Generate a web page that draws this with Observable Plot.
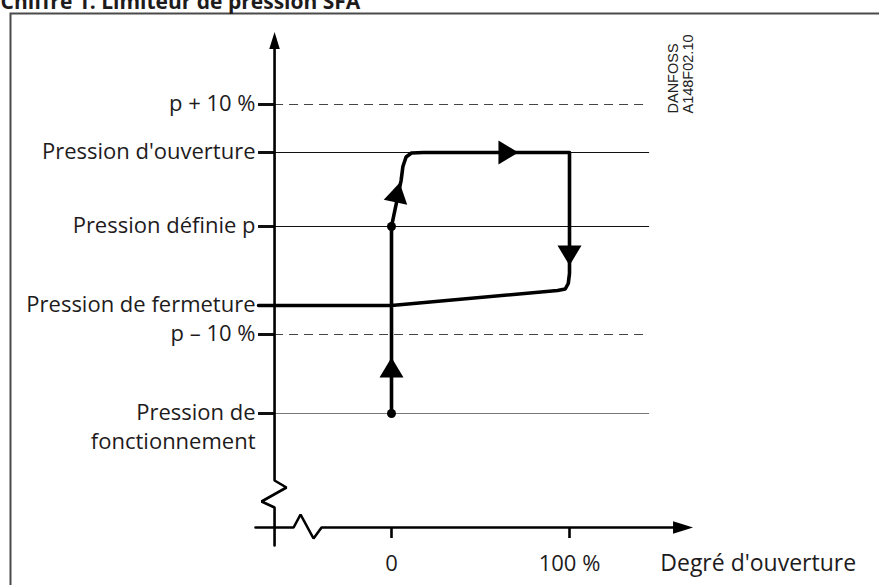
<!DOCTYPE html>
<html>
<head>
<meta charset="utf-8">
<script src="https://cdn.jsdelivr.net/npm/d3@7"></script>
<script src="https://cdn.jsdelivr.net/npm/@observablehq/plot@0.6"></script>
<style>
  html, body { margin: 0; padding: 0; background: #fff; overflow: hidden; }
  #chart svg { display: block; }
</style>
</head>
<body>
<div id="chart"></div>
<script>
// ---------- data ----------
const titleText = "Chiffre 1. Limiteur de pression SFA";
const levelLabels = ["p + 10 %", "Pression d'ouverture", "Pression définie p", "Pression de fermeture", "p – 10 %", "Pression de\nfonctionnement"];
const levelValues = [84.6, 75, 60.2, 44.4, 38.6, 22.8];
const levelDashed = [true, false, false, false, true, false];
const levelHasLine = [true, true, true, false, true, true];
const levelStroke = ["#444", "#111", "#111", "#111", "#444", "#777"];

const xTickValues = [0, 100];
const xTickLabels = ["0", "100 %"];
const xAxisTitle = "Degré d'ouverture";
const watermark = "DANFOSS\nA148F02.10";

// hysteresis path (opening degree %, pressure level)
const pathX = [0, 0, 5.4, 6.4, 8.2, 11.2, 18, 100, 100, 99.3, 97.6, 93.3, 0, -74.7];
const pathY = [22.8, 60.2, 69.4, 72.2, 74.1, 74.9, 75, 75, 50.8, 48.8, 47.7, 47.4, 44.4, 44.4];

// dots on the path
const dotX = [0, 0];
const dotY = [22.8, 60.2];

// arrowheads on the path
const headX = [0, 3.4, 65.7, 100];
const headY = [32, 67, 75, 54.4];
const headAngle = [0, 12, 90, 180];

// axes (schematic, with break marks)
const yAxisX = [-65.7, -65.7, -73.0, -59.0, -65.7, -65.7];
const yAxisY = [-3.6, 4.0, 5.2, 8.0, 9.4, 96.0];
const xAxisX = [-76.4, -55.0, -51.1, -43.8, -39.3, 160];
const xAxisY = [0, 0, 2.6, -2.2, 0, 0];
const axisHeadX = [-65.7, 163.8];
const axisHeadY = [97.4, 0];
const axisHeadAngle = [0, 90];
const axisHeadSize = [8.5, 10];

// ---------- helpers ----------
const levels = levelLabels.map((label, i) => ({label, value: levelValues[i], dashed: levelDashed[i], line: levelHasLine[i], stroke: levelStroke[i]}));
const path = pathX.map((x, i) => ({x, y: pathY[i]}));
const heads = headX.map((x, i) => ({x, y: headY[i], a: headAngle[i]}));
const axisHeads = axisHeadX.map((x, i) => ({x, y: axisHeadY[i], a: axisHeadAngle[i], r: axisHeadSize[i]}));
const yAxis = yAxisX.map((x, i) => ({x, y: yAxisY[i]}));
const xAxis = xAxisX.map((x, i) => ({x, y: xAxisY[i]}));

function headSymbol(ratio) {
  return {
    draw(ctx, size) {
      const r = Math.sqrt(size / Math.PI);
      ctx.moveTo(0, -r);
      ctx.lineTo(ratio * r, r);
      ctx.lineTo(-ratio * r, r);
      ctx.closePath();
    }
  };
}

const axisLeft = -65.7;
const refEnd = 145;
const tickStart = -74.7;
const ink = "#1e1b1c";
const font = "Open Sans";
const fs = 22;

const chart = Plot.plot({
  width: 879,
  height: 585,
  marginLeft: 10,
  marginTop: 13,
  marginRight: 0,
  marginBottom: 0,
  style: {fontFamily: font, background: "#fff", overflow: "visible"},
  x: {domain: [0, 100], range: [391, 569], axis: null},
  y: {domain: [0, 100], range: [527, 27], axis: null},
  r: {type: "identity"},
  marks: [
    Plot.frame({stroke: "#4a4a4a", strokeWidth: 2, insetRight: -10, insetBottom: -10}),
    // reference lines
    Plot.ruleY(levels.filter(d => d.line && !d.dashed), {y: "value", x1: axisLeft, x2: refEnd, stroke: "stroke", strokeWidth: 1.1}),
    Plot.ruleY(levels.filter(d => d.line && d.dashed), {y: "value", x1: axisLeft, x2: refEnd, stroke: "stroke", strokeWidth: 1.1, strokeDasharray: "9,6"}),
    // level ticks
    Plot.ruleY(levels, {y: "value", x1: tickStart, x2: axisLeft, stroke: "#111", strokeWidth: 3}),
    // level labels
    Plot.text(levels, {y: "value", x: tickStart, text: "label", textAnchor: "end", lineAnchor: "top", dy: -14, dx: -3, fontSize: fs, fill: ink, lineHeight: 1.32}),
    // axes
    Plot.line(yAxis, {x: "x", y: "y", stroke: "#000", strokeWidth: 2.6, strokeLinejoin: "miter"}),
    Plot.line(xAxis, {x: "x", y: "y", stroke: "#000", strokeWidth: 2.6, strokeLinejoin: "miter"}),
    Plot.dot(axisHeads, {x: "x", y: "y", r: "r", rotate: "a", symbol: headSymbol(0.62), fill: "#000", stroke: null}),
    // x ticks
    Plot.ruleX(xTickValues, {x: d => d, y1: 0, y2: -2.2, stroke: "#000", strokeWidth: 2.6}),
    Plot.text(xTickValues, {x: d => d, y: -7.2, text: (d, i) => xTickLabels[i], fontSize: fs, fill: ink}),
    Plot.text([xAxisTitle], {x: 151, y: -7.2, text: d => d, textAnchor: "start", fontSize: 23, fill: ink}),
    // hysteresis path
    Plot.line(path, {x: "x", y: "y", stroke: "#000", strokeWidth: 3.6, strokeLinejoin: "round", curve: "linear"}),
    Plot.dot(dotX.map((x, i) => ({x, y: dotY[i]})), {x: "x", y: "y", r: 4.5, fill: "#000", stroke: null}),
    Plot.dot(heads, {x: "x", y: "y", r: 10, rotate: "a", symbol: headSymbol(1.2), fill: "#000", stroke: null}),
    // watermark
    Plot.text([watermark], {x: 162.4, y: 82.8, text: d => d, rotate: -90, textAnchor: "start", lineAnchor: "middle", fontFamily: "Liberation Sans", fontSize: 14.5, lineHeight: 1.05, fill: "#222"}),
    // title (cut at the top, as in the source)
    Plot.text([titleText], {frameAnchor: "top-left", dx: -10, dy: -5, text: d => d, textAnchor: "start", lineAnchor: "bottom", fontSize: 21, fontWeight: "bold", fill: ink})
  ]
});
document.getElementById("chart").append(chart);
</script>
</body>
</html>
